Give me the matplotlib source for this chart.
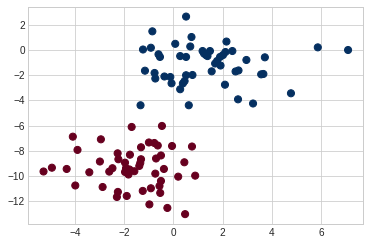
import matplotlib
matplotlib.use('Agg')
import matplotlib.pyplot as plt
import numpy as np

plt.style.use('seaborn-v0_8-whitegrid')

# cluster 1 (blue)
blue_x = [0.52, -0.85, 0.74, 0.08, 0.69, -1.23, -0.91, -0.60, -0.54, 0.28,
          0.52, 1.19, 1.33, 1.49, 2.16, 1.90, 2.12, 2.40, 1.78, 1.70,
          1.92, 2.97, 3.72, -1.15, -0.76, -0.73, -0.36, -0.12, -0.07, 0.52,
          0.78, 0.46, 0.39, 0.28, 1.56, 2.10, 2.53, 2.65, -1.33, 0.63,
          2.63, 3.24, 3.57, 3.66, 4.78, 5.87, 7.10, 1.39, 2.02, 1.25]
blue_y = [2.65, 1.48, 1.03, 0.49, 0.28, 0.04, 0.18, -0.34, -0.55, -0.48,
          -0.55, -0.08, -0.40, -0.08, 0.67, -0.55, -0.16, -0.08, -0.87, -1.07,
          -1.23, -0.79, -0.58, -1.64, -1.82, -2.26, -2.10, -2.14, -2.64, -2.00,
          -1.98, -2.46, -2.65, -3.11, -1.69, -2.75, -1.70, -1.62, -4.38, -4.38,
          -3.91, -4.24, -1.93, -1.90, -3.43, 0.21, 0.00, -0.48, -0.40, -0.28]

# cluster 0 (red)
red_x = [-4.08, -2.94, -3.89, -2.98, -5.27, -4.93, -4.33, -3.41, -3.98, -2.87,
         -1.69, -0.46, -0.99, -0.77, -0.63, -1.31, -0.05, 0.76, -2.26, -1.76,
         -2.23, -1.96, -1.31, -1.34, -1.38, -0.50, -0.70, 0.45, -0.38, -2.60,
         -2.47, -1.92, -1.96, -1.82, -1.58, -0.73, 0.20, 0.89, -0.50, -0.56,
         -0.53, -1.24, -0.91, -2.25, -2.29, -1.89, -0.97, -0.24, 0.48, -1.78]
red_y = [-6.87, -7.08, -7.92, -8.84, -9.63, -9.33, -9.43, -9.69, -10.74, -10.86,
         -6.10, -6.02, -7.33, -7.37, -7.57, -7.71, -7.61, -7.65, -8.19, -8.30,
         -8.66, -8.93, -8.66, -8.95, -9.19, -8.36, -8.60, -8.90, -9.43, -9.64,
         -9.37, -9.37, -9.67, -9.87, -9.61, -9.80, -10.04, -9.96, -10.38, -10.78,
         -11.33, -11.17, -10.96, -11.25, -11.65, -11.57, -12.24, -12.52, -13.01, -9.47]

x = np.array(blue_x + red_x)
y = np.array(blue_y + red_y)
labels = np.array([1] * len(blue_x) + [0] * len(red_x))

fig = plt.figure(figsize=(369 / 72, 244 / 72), dpi=72)
ax = fig.add_axes([28.3 / 369, 20 / 244, 335 / 369, 217.3 / 244])
ax.scatter(x, y, c=labels, s=50, cmap='RdBu')
ax.set_xticks([-4, -2, 0, 2, 4, 6])
ax.set_yticks([2, 0, -2, -4, -6, -8, -10, -12])

fig.savefig('out.png', dpi=72)
